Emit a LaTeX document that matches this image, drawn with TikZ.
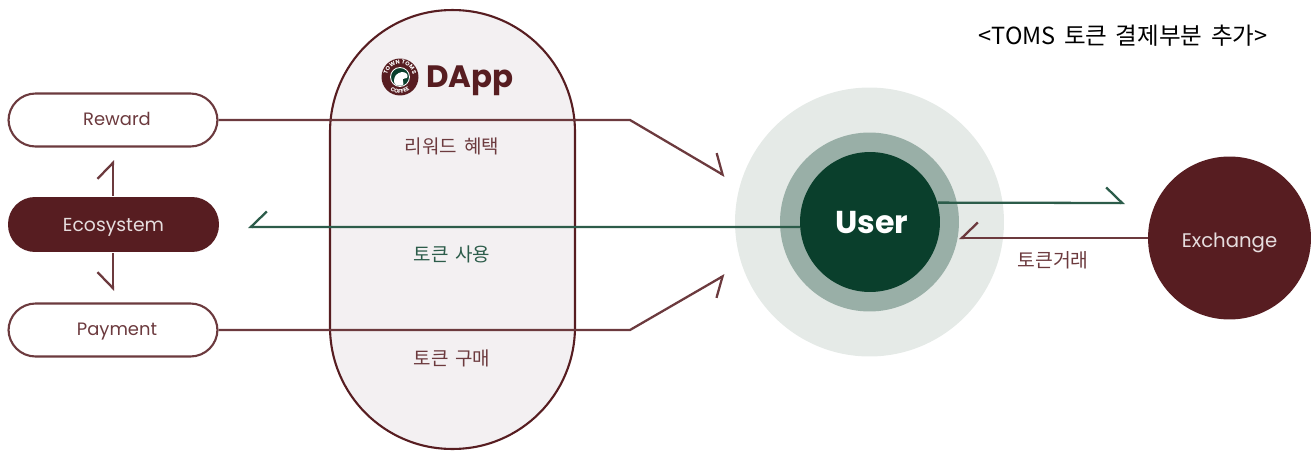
\documentclass[tikz,border=0pt]{standalone}
\usepackage{fontspec}
\usepackage{xcolor}
\setmainfont{Poppins}
\newfontfamily\krfont[WordSpace=0.2]{Noto Sans CJK KR}
\newfontfamily\titlefont[WordSpace=1.6]{Noto Sans CJK KR}
\usetikzlibrary{arrows.meta,decorations.text}
\definecolor{winered}{RGB}{87,29,33}
\definecolor{wineline}{RGB}{108,58,62}
\definecolor{capsulegray}{RGB}{243,240,242}
\definecolor{userdark}{RGB}{10,63,44}
\definecolor{userring}{RGB}{153,175,167}
\definecolor{userhalo}{RGB}{229,234,231}
\definecolor{greenline}{RGB}{44,92,74}
\tikzset{
    pillnode/.style={draw=wineline, line width=1.2pt, fill=white, rectangle, rounded corners=0.54cm, minimum width=4.18cm, minimum height=1.06cm, text=wineline, text height=6.7pt, text depth=0pt, font=\fontsize{10.2}{12}\selectfont, inner sep=0pt},
    disc/.style={circle, inner sep=0pt, draw=none},
    krlabel/.style={font=\krfont\fontsize{10.8}{14}\selectfont, inner sep=0pt},
    winearrow/.style={draw=wineline, line width=1.3pt, -{Straight Barb[harpoon,swap,length=0.32cm,width=0.62cm]}},
    winearrowr/.style={draw=wineline, line width=1.3pt, -{Straight Barb[harpoon,length=0.32cm,width=0.62cm]}},
    greenarrow/.style={draw=greenline, line width=1.3pt, -{Straight Barb[harpoon,swap,length=0.32cm,width=0.62cm]}},
    greenarrowr/.style={draw=greenline, line width=1.3pt, -{Straight Barb[harpoon,length=0.32cm,width=0.62cm]}}
}
\begin{document}
\begin{tikzpicture}[x=0.02cm,y=-0.02cm]
    \useasboundingbox (0,0) rectangle (1316,450);

    % Title
    \node[font=\titlefont\fontsize{13.4}{16}\selectfont, inner sep=0pt] (title) at (1123,36) {<TOMS 토큰 결제부분 추가>};

    % DApp capsule
    \node[rectangle, draw=winered, line width=1.2pt, fill=capsulegray, rounded corners=2.44cm, minimum width=4.9cm, minimum height=8.78cm] (dapp) at (452.5,229.5) {};
    \node[font=\bfseries\fontsize{17.6}{20}\selectfont, text=winered, inner sep=0pt, anchor=west] (dapptitle) at (426,81) {DApp};
    \node[krlabel, text=wineline] (benefit) at (452,146) {리워드 혜택};
    \node[krlabel, text=greenline] (tokenuse) at (452,254) {토큰 사용};
    \node[krlabel, text=wineline] (tokenbuy) at (452,358) {토큰 구매};

    % Logo
    \node[disc, fill=winered, minimum size=0.74cm] (logo) at (400,77) {};
    \node[disc, fill=userdark, draw=white, line width=0.5pt, minimum size=0.38cm] (logocore) at (400,77) {};
    \fill[white] plot[smooth cycle, tension=0.6] coordinates {(394,81) (396,75) (402,72) (407,74) (407,78) (403,79) (403,85) (396,85)};
    \path[postaction={decorate}, decoration={text along path, text align=center, text={|\fontsize{3.2}{3.2}\selectfont\bfseries\color{white}|TOWN TOMS}}] (387,77) arc (180:360:13);
    \path[postaction={decorate}, decoration={text along path, text align=center, text={|\fontsize{3.2}{3.2}\selectfont\bfseries\color{white}|COFFEE}}] (383.5,77) arc (180:0:16.5);

    % Left column
    \foreach \name/\label/\ypos in {reward/Reward/120, payment/Payment/330} {
        \node[pillnode] (\name) at (113,\ypos) {\hspace*{0.16cm}\label};
    }
    \node[pillnode, draw=none, fill=winered, text=white!85!winered, minimum width=4.22cm, minimum height=1.1cm, text height=7.9pt, font=\fontsize{10.7}{12}\selectfont] (eco) at (113.5,224.5) {Ecosystem};

    % User circles
    \node[disc, fill=userhalo, minimum size=5.38cm] (halo) at (869.5,222) {};
    \node[disc, fill=userring, minimum size=3.58cm] (ring) at (869.5,222) {};
    \node[disc, fill=userdark, minimum size=2.8cm, text=white, text height=13pt, text depth=0pt, font=\bfseries\fontsize{18}{20}\selectfont] (user) at (870,222) {\hspace*{0.08cm}User};

    % Exchange
    \node[disc, fill=winered, minimum size=3.26cm, text=white!85!winered, text height=11.3pt, text depth=0pt, font=\fontsize{11.2}{12}\selectfont] (exchange) at (1229.5,238) {Exchange};
    \node[krlabel, font=\krfont\fontsize{11}{14}\selectfont, text=wineline] (trade) at (1053,260) {토큰거래};

    % Arrow ends
    \coordinate (rewardbend) at (630,120);
    \coordinate (rewardtip) at (725,176);
    \coordinate (paymentbend) at (630,330);
    \coordinate (paymenttip) at (725,275);
    \coordinate (ecotip) at (248,227);
    \coordinate (uptip) at (113,160);
    \coordinate (downtip) at (113,291);
    \coordinate (selltip) at (1125,203);
    \coordinate (buytip) at (959,238);

    % Connectors
    \draw[winearrowr] (reward.east) -- (rewardbend) -- (rewardtip);
    \draw[winearrow] (payment.east) -- (paymentbend) -- (paymenttip);
    \draw[greenarrow] (user.184) -- (ecotip);
    \draw[winearrowr] (eco.north -| uptip) -- (uptip);
    \draw[winearrow] (eco.south -| downtip) -- (downtip);
    \draw[greenarrowr] (user.16) -- (selltip);
    \draw[winearrow] (exchange.west) -- (buytip);
\end{tikzpicture}
\end{document}
